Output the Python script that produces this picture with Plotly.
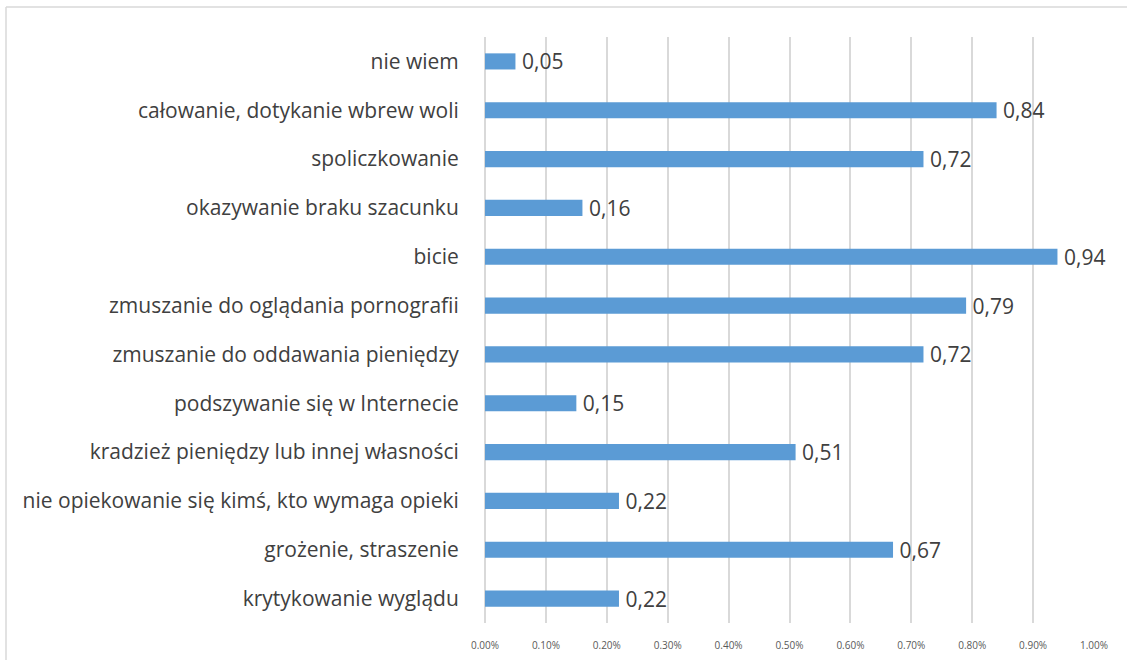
import plotly.graph_objects as go

categories = [
    "nie wiem",
    "całowanie, dotykanie wbrew woli",
    "spoliczkowanie",
    "okazywanie braku szacunku",
    "bicie",
    "zmuszanie do oglądania pornografii",
    "zmuszanie do oddawania pieniędzy",
    "podszywanie się w Internecie",
    "kradzież pieniędzy lub innej własności",
    "nie opiekowanie się kimś, kto wymaga opieki",
    "grożenie, straszenie",
    "krytykowanie wyglądu",
]
values = [0.05, 0.84, 0.72, 0.16, 0.94, 0.79, 0.72, 0.15, 0.51, 0.22, 0.67, 0.22]
value_labels = ["\u2009" + f"{v:.2f}".replace(".", ",") for v in values]
tick_values = [0.0, 0.1, 0.2, 0.3, 0.4, 0.5, 0.6, 0.7, 0.8, 0.9, 1.0]
tick_labels = [f"{t:.2f}%" for t in tick_values]

W, H = 1127, 660
ml, mr, mt, mb = 485, 33, 37, 37
pw = W - ml - mr
ph = H - mt - mb

fig = go.Figure(go.Bar(
    x=values, y=categories, orientation="h",
    marker=dict(color="#5B9BD5", line=dict(width=0)),
    text=value_labels, textposition="outside", constraintext="none",
    textfont=dict(family="Open Sans", size=21, color="#404040"),
    cliponaxis=False,
))

bx = (6 - ml) / pw
by = 1 + (mt - 7) / ph
fig.add_shape(type="line", xref="paper", yref="paper", x0=bx, x1=bx, y0=-(mb + 5) / ph, y1=by,
              line=dict(color="#D9D9D9", width=1.5))
fig.add_shape(type="line", xref="paper", yref="paper", x0=bx, x1=(W - ml + 5) / pw, y0=by, y1=by,
              line=dict(color="#D9D9D9", width=1.5))

fig.update_layout(
    width=W, height=H,
    margin=dict(l=ml, r=mr, t=mt, b=mb, autoexpand=False),
    paper_bgcolor="white", plot_bgcolor="white",
    bargap=0.67, showlegend=False,
    font=dict(family="Open Sans", color="#404040"),
)
fig.update_xaxes(
    range=[0, 1.0], tickvals=tick_values, ticktext=tick_labels,
    tickfont=dict(family="Open Sans", size=10, color="#595959"),
    showgrid=True, gridcolor="#D9D9D9", gridwidth=1.5,
    zeroline=True, zerolinecolor="#D9D9D9", zerolinewidth=1.5,
    showline=False, ticks="outside", ticklen=13, tickcolor="rgba(0,0,0,0)",
    automargin=False,
)
fig.update_yaxes(
    autorange="reversed",
    tickfont=dict(family="Open Sans", size=21, color="#404040"),
    showgrid=False, zeroline=False, showline=False,
    ticks="outside", ticklen=21, tickcolor="rgba(0,0,0,0)",
    automargin=False,
)

fig.write_html("out.html", config={"displayModeBar": False},
               post_script="document.body.style.margin='0';")
